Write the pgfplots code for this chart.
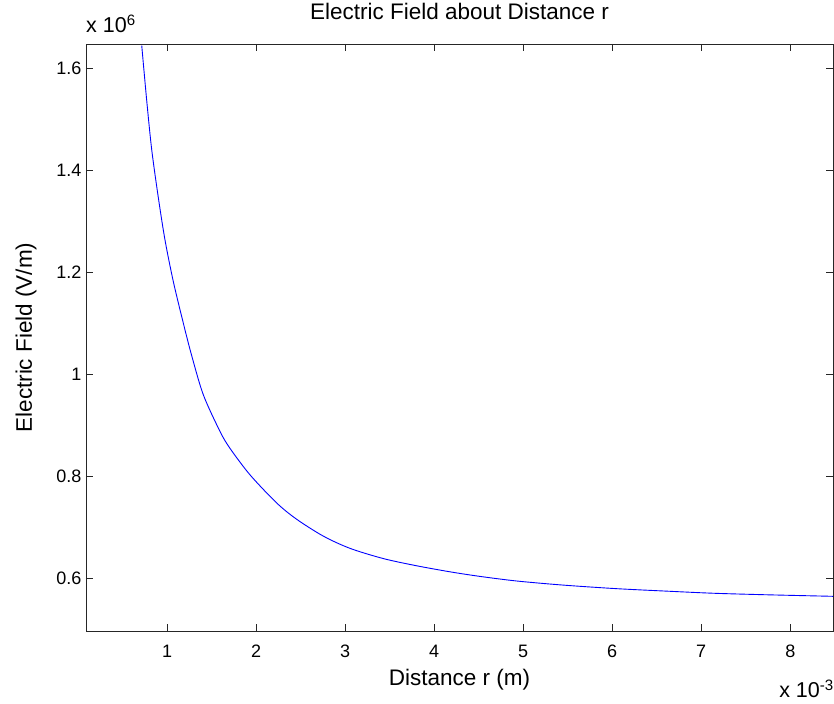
\documentclass[border=0pt]{standalone}
\usepackage{fontspec}
\setmainfont{Liberation Sans}
\usepackage{pgfplots}
\pgfplotsset{compat=1.18}

\newcommand{\tickfont}{\fontsize{18}{21}\selectfont}
\newcommand{\lblfont}{\fontsize{22.5}{26}\selectfont}
\newcommand{\expfont}{\fontsize{21.5}{25}\selectfont}

\begin{document}
\begin{tikzpicture}
\begin{axis}[
  scale only axis,
  width=747pt, height=587pt,
  xmin=0.09, xmax=8.48, ymin=0.497, ymax=1.648,
  xtick={1,2,...,8}, ytick={0.6,0.8,1.0,1.2,1.4,1.6},
  tick align=inside, major tick length=7pt,
  axis line style={line width=0.9pt,black!85},
  major tick style={line width=0.9pt,black!85},
  /pgf/number format/assume math mode=true,
  tick label style={font=\tickfont},
  xticklabel style={anchor=base, yshift=-27pt},
  yticklabel style={xshift=-1pt},
  title={Electric Field about Distance r},
  title style={font=\lblfont, at={(axis description cs:0.5,1)}, anchor=base, yshift=18pt},
  xlabel={Distance r (m)},
  ylabel={Electric Field (V/m)},
  label style={font=\lblfont},
  xlabel style={at={(axis description cs:0.5,0)}, anchor=base, yshift=-55pt},
  ylabel style={at={(axis description cs:0,0.5)}, anchor=base, yshift=54pt},
]
% r in mm, E in MV/m
\addplot[line width=0.9pt, color={rgb,255:red,0;green,0;blue,255}, smooth, tension=0.5] coordinates {
 (0.716,1.645)(0.772,1.537)(0.828,1.441)(0.903,1.346)(0.978,1.263)
 (1.071,1.182)(1.184,1.100)(1.277,1.037)(1.408,0.960)(1.596,0.888)
 (1.708,0.855)(1.933,0.803)(2.232,0.748)(2.457,0.716)(2.756,0.683)
 (3.056,0.659)(3.430,0.639)(3.800,0.625)(4.180,0.613)(4.517,0.604)
 (4.929,0.595)(5.450,0.587)(6.050,0.580)(6.630,0.575)(7.140,0.571)
 (7.740,0.568)(8.480,0.565)};
\coordinate (SW) at (rel axis cs:0,0);
\coordinate (NE) at (rel axis cs:1,1);
\end{axis}
\node[font=\expfont, anchor=base west, inner sep=0pt] at ([yshift=11pt]SW |- NE) {x 10\textsuperscript{6}};
\node[font=\expfont, anchor=base east, inner sep=0pt] at ([xshift=1pt,yshift=-67pt]NE |- SW) {x 10\textsuperscript{-3}};
\pgfresetboundingbox
\path[use as bounding box] ([xshift=-86pt,yshift=-73pt]SW) rectangle ([xshift=1pt,yshift=44pt]NE);
\end{tikzpicture}
\end{document}
